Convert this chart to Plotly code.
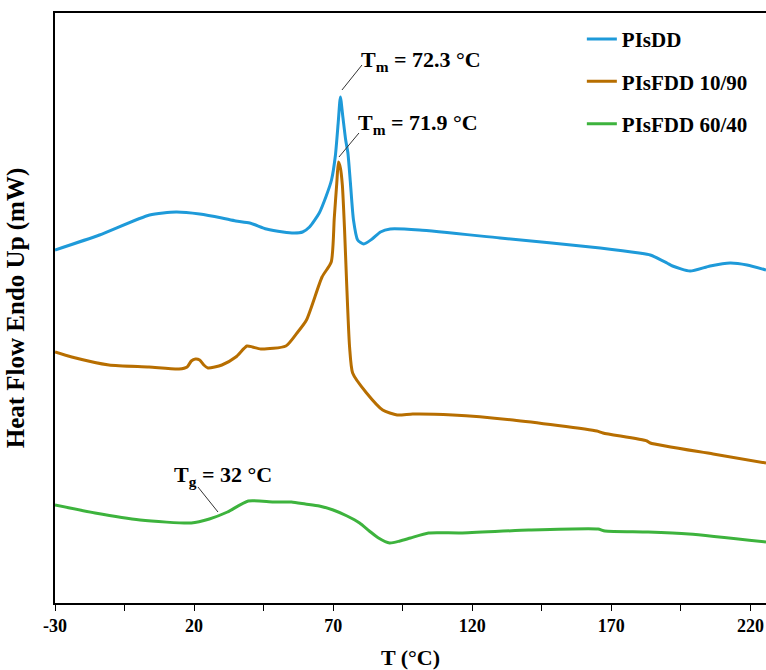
import plotly.graph_objects as go

# ---- data ----
T_pisdd = [-30, -14, 4, 13.5, 22, 30, 35, 40, 46, 52, 56, 59, 61.5, 65, 67.5, 69.4, 70.8, 71.8, 72.6, 73.4, 74.5, 75.3, 76.2, 77.3, 78.8, 81, 84, 87, 90.5, 101, 130, 166, 180, 184, 190, 192, 198.3, 205.5, 212.7, 218.8, 225.6]
Y_pisdd = [7.06, 7.36, 7.76, 7.82, 7.78, 7.70, 7.64, 7.60, 7.48, 7.42, 7.40, 7.42, 7.52, 7.80, 8.14, 8.46, 8.95, 9.60, 10.12, 9.76, 9.26, 9.00, 8.40, 7.66, 7.26, 7.18, 7.28, 7.42, 7.48, 7.46, 7.30, 7.10, 7.00, 6.96, 6.80, 6.74, 6.64, 6.74, 6.80, 6.76, 6.66]

T_10_90 = [-30, -24, -10.6, 3.8, 14.6, 17.5, 19, 20.5, 22, 23.5, 25, 30, 35, 39, 41, 44, 53, 57, 60.4, 66, 69.3, 70.4, 71.3, 71.9, 72.6, 73.3, 74.1, 74.8, 75.9, 77, 82, 87.8, 93, 98.6, 113, 134.6, 164.8, 167, 182.8, 184, 206.6, 225.6]
Y_10_90 = [5.02, 4.92, 4.76, 4.72, 4.68, 4.72, 4.84, 4.88, 4.86, 4.76, 4.70, 4.76, 4.92, 5.14, 5.12, 5.08, 5.14, 5.40, 5.66, 6.52, 6.82, 7.70, 8.40, 8.82, 8.70, 8.36, 7.46, 6.46, 5.12, 4.60, 4.20, 3.86, 3.76, 3.78, 3.76, 3.66, 3.44, 3.40, 3.24, 3.20, 2.98, 2.80]

T_60_40 = [-30, -15.6, 0.6, 19, 25.5, 32, 39.5, 48.5, 55, 60, 65, 70, 75, 79.5, 83, 86.3, 90.3, 94, 97.8, 104.3, 115.8, 140.3, 165.2, 167.7, 183.2, 197.9, 225.6]
Y_60_40 = [1.96, 1.80, 1.66, 1.60, 1.68, 1.82, 2.04, 2.02, 2.02, 1.98, 1.94, 1.86, 1.74, 1.60, 1.44, 1.30, 1.20, 1.24, 1.30, 1.40, 1.40, 1.46, 1.48, 1.44, 1.42, 1.38, 1.22]

series_names = ["PIsDD", "PIsFDD 10/90", "PIsFDD 60/40"]
series_colors = ["#1E9AD9", "#B76E00", "#3DB33D"]

x_tickvals = [-30, 20, 70, 120, 170, 220]
x_ticktext = ["-30", "20", "70", "120", "170", "220"]

FONT = "Liberation Serif"

fig = go.Figure()
for name, xs, ys, col in zip(series_names,
                             [T_pisdd, T_10_90, T_60_40],
                             [Y_pisdd, Y_10_90, Y_60_40],
                             series_colors):
    fig.add_trace(go.Scatter(x=xs, y=ys, mode="lines", name=name,
                             legendgroup=name,
                             line=dict(color=col, width=3, shape="spline", smoothing=0.6)))

# annotations (text + leader lines)
annots = [
    dict(text="T<sub>m</sub> = 72.3 °C", x=79.2, y=10.84, line=(80.35, 10.76, 73.16, 10.26)),
    dict(text="T<sub>m</sub> = 71.9 °C", x=78.2, y=9.58, line=(79.27, 9.40, 72.09, 8.92)),
    dict(text="T<sub>g</sub> = 32 °C", x=12.0, y=2.54, line=(21.40, 2.32, 28.59, 1.82)),
]
for a in annots:
    fig.add_annotation(x=a["x"], y=a["y"], xref="x", yref="y", text=a["text"],
                       showarrow=False, xanchor="left", yanchor="middle",
                       font=dict(family=FONT, size=22, color="black", weight="bold"))
    x0, y0, x1, y1 = a["line"]
    fig.add_shape(type="line", x0=x0, y0=y0, x1=x1, y1=y1, xref="x", yref="y",
                  line=dict(color="#333333", width=1))

fig.update_layout(
    width=766, height=670,
    margin=dict(l=55, r=0, t=13, b=67),
    plot_bgcolor="white", paper_bgcolor="white",
    font=dict(family=FONT, color="black", weight="bold"),
    showlegend=True,
    legend=dict(x=0.741, y=0.99, xanchor="left", yanchor="top",
                font=dict(family=FONT, size=21, color="black", weight="bold"),
                tracegroupgap=12, bgcolor="rgba(0,0,0,0)"),
    xaxis=dict(range=[-30, 225.6], tickvals=x_tickvals, ticktext=x_ticktext,
               automargin=False,
               showline=True, linecolor="black", linewidth=1.5, mirror=True,
               ticks="outside", ticklen=6, tickwidth=1.2, tickcolor="black",
               minor=dict(dtick=25, tick0=-30, ticks="outside", ticklen=6, tickwidth=1.2, tickcolor="black"),
               showgrid=False, zeroline=False,
               tickfont=dict(family=FONT, size=18, color="black", weight="bold"),
               title=dict(text="T (°C)", font=dict(family=FONT, size=22, color="black", weight="bold"), standoff=16)),
    yaxis=dict(range=[0, 11.8], automargin=False,
               showline=True, linecolor="black", linewidth=1.5,
               showticklabels=False, ticks="", showgrid=False, zeroline=False,
               title=dict(text="Heat Flow Endo Up (mW)", font=dict(family=FONT, size=25, color="black", weight="bold"), standoff=22)),
)

fig.write_html("out.html", config={"displayModeBar": False},
               post_script="document.body.style.margin='0';document.body.style.overflow='hidden';")
